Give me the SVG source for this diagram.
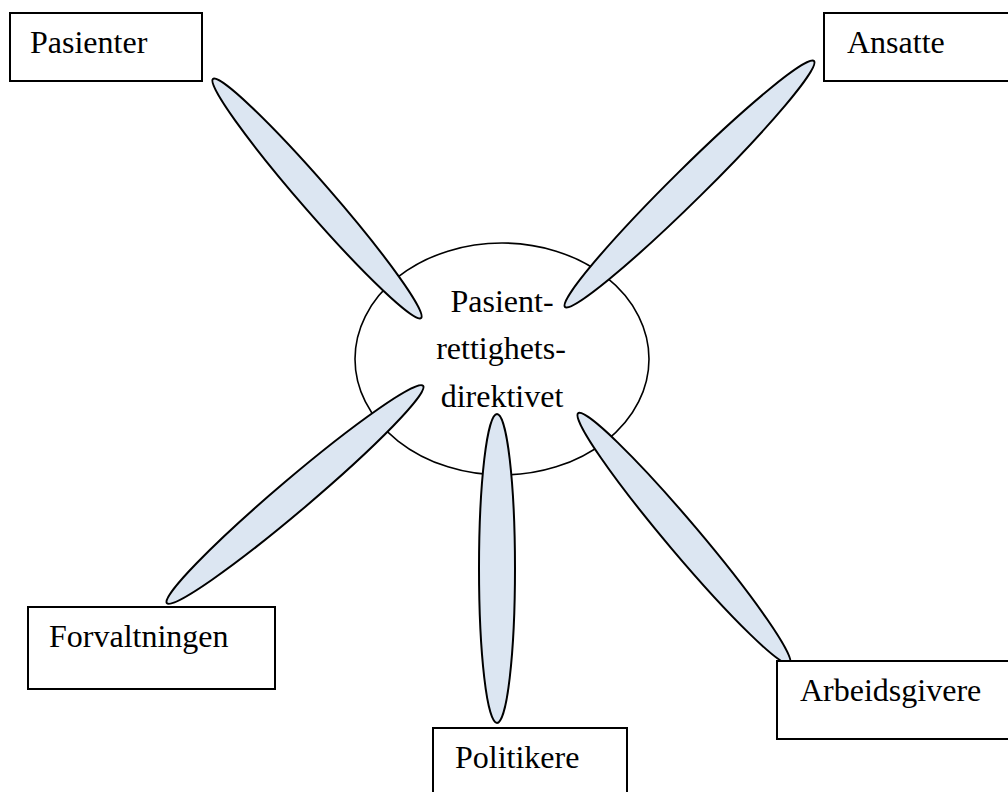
<svg xmlns="http://www.w3.org/2000/svg" width="1008" height="792" viewBox="0 0 1008 792">
<style>
.box{fill:#fff;stroke:#000;stroke-width:2}
.petal{fill:#dce6f2;stroke:#000;stroke-width:2}
.hub{fill:#fff;stroke:#000;stroke-width:1.6}
text{font-family:"Liberation Serif","Times New Roman",serif;font-size:32px;fill:#000}
</style>
<rect width="1008" height="792" fill="#fff"/>
<g id="hub">
<ellipse class="hub" cx="502" cy="359" rx="147" ry="116"/>
<text x="502" y="312" text-anchor="middle">Pasient-</text>
<text x="501" y="359" text-anchor="middle">rettighets-</text>
<text x="502" y="407" text-anchor="middle">direktivet</text>
</g>
<g id="connectors">
<ellipse class="petal" cx="0" cy="0" rx="158.5" ry="15" transform="translate(317 198.5) rotate(48.97)"/>
<ellipse class="petal" cx="0" cy="0" rx="175" ry="16" transform="translate(689.5 184) rotate(-44.65)"/>
<ellipse class="petal" cx="0" cy="0" rx="168" ry="16" transform="translate(295 494.5) rotate(-40.3)"/>
<ellipse class="petal" cx="497" cy="568.5" rx="18" ry="154.5"/>
<ellipse class="petal" cx="0" cy="0" rx="164" ry="16" transform="translate(684 538.5) rotate(49.8)"/>
</g>
<g id="pasienter">
<rect class="box" x="10" y="13" width="192" height="68"/>
<text x="30" y="53">Pasienter</text>
</g>
<g id="ansatte">
<rect class="box" x="824" y="13" width="190" height="68"/>
<text x="847" y="53">Ansatte</text>
</g>
<g id="forvaltningen">
<rect class="box" x="28" y="607" width="247" height="82"/>
<text x="49" y="647">Forvaltningen</text>
</g>
<g id="politikere">
<rect class="box" x="433" y="728" width="194" height="70"/>
<text x="455" y="768">Politikere</text>
</g>
<g id="arbeidsgivere">
<rect class="box" x="777" y="661" width="240" height="78"/>
<text x="800" y="701">Arbeidsgivere</text>
</g>
</svg>
